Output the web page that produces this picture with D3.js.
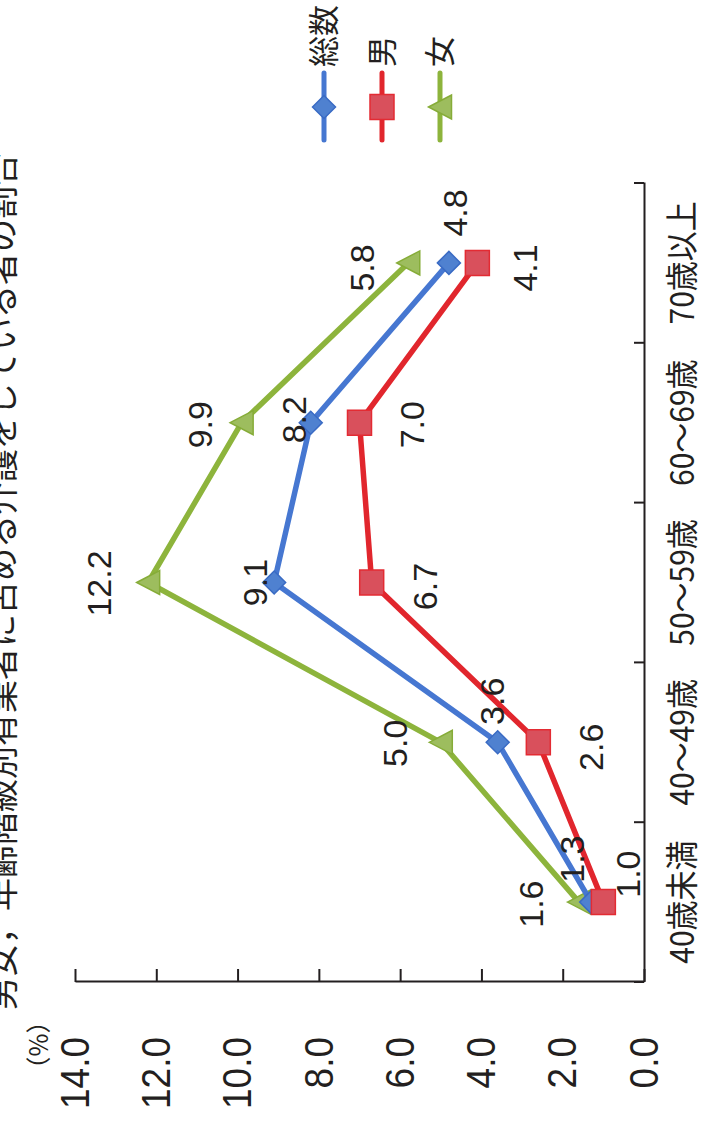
<!DOCTYPE html>
<html>
<head>
<meta charset="utf-8">
<script src="https://cdn.jsdelivr.net/npm/d3@7"></script>
<style>
  body { margin: 0; background: #fff; }
  svg { display: block; }
</style>
</head>
<body>
<svg id="chart" width="704" height="1124"></svg>
<script>
// Data: share of employed people who provide care, by sex and age group (%)
const categories   = ["40歳未満", "40～49歳", "50～59歳", "60～69歳", "70歳以上"];
const totalValues  = [1.3, 3.6, 9.1, 8.2, 4.8];
const maleValues   = [1.0, 2.6, 6.7, 7.0, 4.1];
const femaleValues = [1.6, 5.0, 12.2, 9.9, 5.8];
const valueTicks   = [0, 2, 4, 6, 8, 10, 12, 14];
const seriesNames  = ["総数", "男", "女"];
const titleText    = "男女，年齢階級別有業者に占める介護をしている者の割合";
const unitText     = "（%）";

// Label nudges (along category axis, along value axis) for each point
const totalLabelShift  = [[43, -19], [41, -6], [0, -19], [3, -17], [50, 6]];
const maleLabelShift   = [[28, 24], [-5, 52], [-4, 53], [-2, 52], [-5, 47]];
const femaleLabelShift = [[-2, -48], [-1, -46], [-1, -49], [-2, -42], [-5, -47]];

const W = 704, H = 1124;
const svg = d3.select("#chart");

// The chart is laid out in a landscape frame and turned a quarter turn
const g = svg.append("g").attr("transform", `translate(0,${H}) rotate(-90)`);

const x = d3.scaleBand().domain(categories).range([142, 941]).padding(0);
const y = d3.scaleLinear().domain([0, 14]).range([644, 75]);
const cx = c => x(c) + x.bandwidth() / 2;

const numFont = "'Liberation Sans', Arial, sans-serif";
const cjkFont = "'Noto Sans CJK JP', 'Noto Sans', sans-serif";
const ink = "#231f20";

// Title (runs off the page at the left edge)
g.append("text")
  .attr("x", 114).attr("y", 14)
  .attr("font-family", cjkFont).attr("font-size", 33)
  .attr("fill", ink)
  .text(titleText);

// Value axis
const yAxis = g.append("g")
  .attr("transform", "translate(142,0)")
  .call(d3.axisLeft(y)
    .tickValues(valueTicks)
    .tickFormat(d3.format(".1f"))
    .tickSizeInner(-13)
    .tickSizeOuter(0)
    .tickPadding(55));
yAxis.select(".domain").attr("stroke", ink).attr("stroke-width", 2);
yAxis.selectAll(".tick line").attr("stroke", ink).attr("stroke-width", 2);
yAxis.selectAll(".tick text")
  .attr("font-family", numFont).attr("font-size", 37)
  .attr("fill", ink)
  .attr("transform", "scale(1,1.12)");

// Unit label
g.append("text")
  .attr("x", 79).attr("y", 48)
  .attr("text-anchor", "middle")
  .attr("font-family", cjkFont).attr("font-size", 25)
  .attr("fill", ink)
  .text(unitText);

// Category axis
const xAxis = g.append("g")
  .attr("transform", "translate(0,644)")
  .call(d3.axisBottom(x).tickSize(0).tickSizeOuter(0).tickPadding(0));
xAxis.select(".domain").attr("stroke", ink).attr("stroke-width", 2);
xAxis.selectAll(".tick text")
  .attr("dy", null)
  .attr("font-family", cjkFont).attr("font-size", 30)
  .attr("fill", ink)
  .attr("transform", "scale(1,1.1)")
  .attr("y", 50 / 1.1);
// Boundary ticks between the age groups
const bounds = categories.map(c => x(c)).concat([x.range()[1]]);
xAxis.selectAll(".bound")
  .data(bounds)
  .join("line")
  .attr("class", "bound")
  .attr("x1", d => d).attr("x2", d => d)
  .attr("y1", 0).attr("y2", -10)
  .attr("stroke", ink).attr("stroke-width", 2);

// Series definitions
const halfDiamond = 11.5;
const diamondPath = `M0,${-halfDiamond}L${halfDiamond},0L0,${halfDiamond}L${-halfDiamond},0Z`;
const squarePath = "M-12.5,-12H12.5V12H-12.5Z";
const trianglePath = "M0,-11.5L12,11.5H-12Z";

const series = [
  { name: seriesNames[2], values: femaleValues, shift: femaleLabelShift,
    line: "#8db43c", fill: "#9dbd5e", stroke: "#86ac38", marker: trianglePath },
  { name: seriesNames[0], values: totalValues, shift: totalLabelShift,
    line: "#4677d1", fill: "#4f81d0", stroke: "#3a6bc4", marker: diamondPath },
  { name: seriesNames[1], values: maleValues, shift: maleLabelShift,
    line: "#e1262d", fill: "#d9505c", stroke: "#e32b33", marker: squarePath }
];

const lineGen = d3.line()
  .x((d, i) => cx(categories[i]))
  .y(d => y(d));

series.forEach(s => {
  const sg = g.append("g");
  sg.append("path")
    .datum(s.values)
    .attr("d", lineGen)
    .attr("fill", "none")
    .attr("stroke", s.line)
    .attr("stroke-width", 5.5)
    .attr("stroke-linejoin", "round");
  sg.selectAll(".mk")
    .data(s.values)
    .join("path")
    .attr("class", "mk")
    .attr("d", s.marker)
    .attr("transform", (d, i) => `translate(${cx(categories[i])},${y(d)})`)
    .attr("fill", s.fill)
    .attr("stroke", s.stroke)
    .attr("stroke-width", 1.5);
});

// Value labels
series.forEach(s => {
  g.append("g").selectAll("text")
    .data(s.values)
    .join("text")
    .attr("x", (d, i) => cx(categories[i]) + s.shift[i][0])
    .attr("y", (d, i) => y(d) + s.shift[i][1])
    .attr("dy", "0.36em")
    .attr("text-anchor", "middle")
    .attr("font-family", numFont).attr("font-size", 34)
    .attr("fill", ink)
    .text(d => d3.format(".1f")(d));
});

// Legend
const legendOrder = [
  { name: seriesNames[0], s: series[1] },
  { name: seriesNames[1], s: series[2] },
  { name: seriesNames[2], s: series[0] }
];
const legendRows = [324, 382, 440];
legendOrder.forEach((item, k) => {
  const lg = g.append("g").attr("transform", `translate(0,${legendRows[k]})`);
  lg.append("line")
    .attr("x1", 984).attr("x2", 1051)
    .attr("y1", 0).attr("y2", 0)
    .attr("stroke", item.s.line).attr("stroke-width", 5)
    .attr("stroke-linecap", "round");
  lg.append("path")
    .attr("d", item.s.marker)
    .attr("transform", "translate(1017,0)")
    .attr("fill", item.s.fill)
    .attr("stroke", item.s.stroke)
    .attr("stroke-width", 1.5);
  lg.append("text")
    .attr("x", 1057).attr("y", 0)
    .attr("dy", "0.36em")
    .attr("font-family", cjkFont).attr("font-size", 31)
    .attr("fill", ink)
    .text(item.name);
});
</script>
</body>
</html>
